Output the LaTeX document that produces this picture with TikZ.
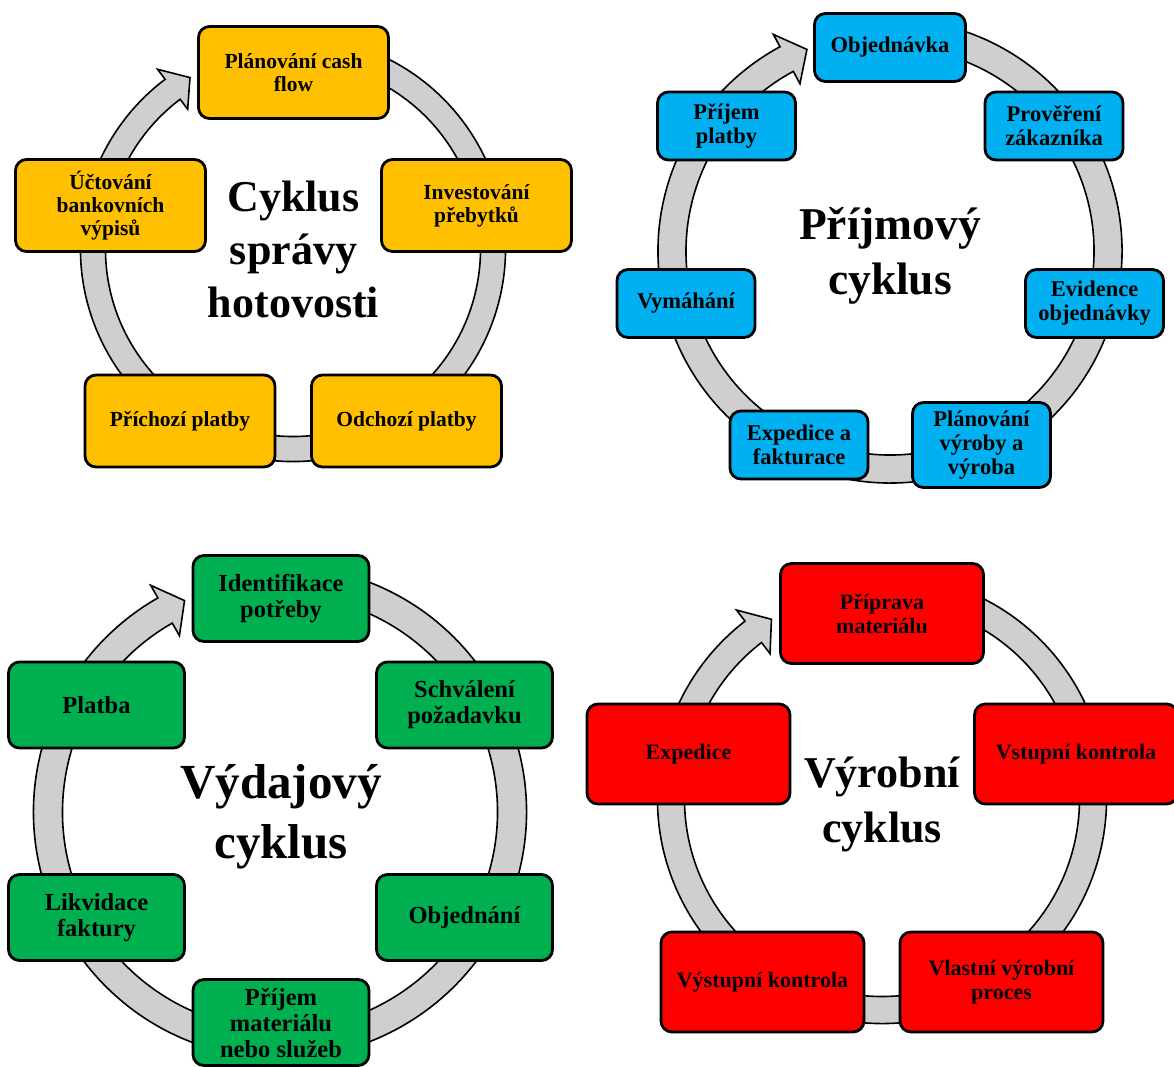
\documentclass[tikz,border=0pt]{standalone}
\usepackage{fontspec}
\setmainfont{Liberation Serif}
\usetikzlibrary{calc}

\definecolor{ringgray}{HTML}{D0CECE}
\definecolor{cashyellow}{HTML}{FFC000}
\definecolor{salesblue}{HTML}{00B0F0}
\definecolor{buygreen}{HTML}{00B050}
\definecolor{makered}{HTML}{FF0000}

\tikzset{
  stage/.style={draw=black, line width=2.8pt, rounded corners=11pt, inner sep=0pt,
    align=center, text=black},
  ring/.style={fill=ringgray, draw=black, line width=1.6pt, line join=miter},
  heading/.style={align=center, inner sep=0pt, text=black},
  cashbox/.style={stage, fill=cashyellow, minimum width=190pt, minimum height=92pt,
    font=\bfseries\fontsize{21.5}{23}\selectfont},
  salesbox/.style={stage, fill=salesblue, minimum width=138pt, minimum height=68pt,
    font=\bfseries\fontsize{22.5}{24}\selectfont},
  buybox/.style={stage, fill=buygreen, minimum width=176pt, minimum height=86pt,
    font=\bfseries\fontsize{24.5}{26}\selectfont},
  makebox/.style={stage, fill=makered, minimum width=203pt, minimum height=100pt,
    font=\bfseries\fontsize{22}{24}\selectfont},
}

% circular band with an arrow head:
% #1,#2 centre, #3 radius, #4 half band width, #5 half head width,
% #6 start angle (hidden under the first box), #7 head base angle, #8 tip angle
\newcommand\cyclering[8]{%
  \draw[ring] ($(#1,#2)+(#6:#3+#4)$)
    arc[start angle=#6, end angle=#7-360, radius=#3+#4]
    -- ($(#1,#2)+(#7-360:#3+#5)$)
    -- ($(#1,#2)+(#8-360:#3)$)
    -- ($(#1,#2)+(#7-360:#3-#5)$)
    -- ($(#1,#2)+(#7-360:#3-#4)$)
    arc[start angle=#7-360, end angle=#6, radius=#3-#4]
    -- cycle;}

\begin{document}
\begin{tikzpicture}[x=1pt, y=1pt]
  \fill[white] (0,0) rectangle (1174,-1066);
  \useasboundingbox (0,0) rectangle (1174,-1066);

  % ---------- bands ----------
  \cyclering{293}{-249}{200}{12.5}{25}{75}{127}{121}
  \cyclering{890}{-251}{218}{14}{28}{75}{118.3}{112.4}
  \cyclering{280}{-812}{232}{14.5}{29}{75}{119.7}{114.3}
  \cyclering{882}{-799}{211}{13.5}{27.5}{75}{127.6}{121.6}

  % ---------- cash management cycle ----------
  \node[cashbox] (c1) at (293.5,-72.5)  {Plánování cash\\flow};
  \node[cashbox] (c2) at (476.5,-205.5) {Investování\\přebytků};
  \node[cashbox] (c3) at (406.5,-421)   {Odchozí platby};
  \node[cashbox] (c4) at (180,-421)     {Příchozí platby};
  \node[cashbox] (c5) at (110.5,-205.5) {Účtování\\bankovních\\výpisů};
  \node[heading, font=\bfseries\fontsize{44}{53}\selectfont] (ct) at (293.5,-249)
    {Cyklus\\správy\\hotovosti};

  % ---------- revenue cycle ----------
  \node[salesbox, minimum width=151pt] (s1) at (890,-47.5) {Objednávka};
  \node[salesbox] (s2) at (1054,-126)    {Prověření\\zákazníka};
  \node[salesbox] (s3) at (1094.5,-303.5) {Evidence\\objednávky};
  \node[salesbox, minimum height=85pt] (s4) at (981.5,-445) {Plánování\\výroby a\\výroba};
  \node[salesbox] (s5) at (799,-445)     {Expedice a\\fakturace};
  \node[salesbox] (s6) at (686,-303.5)   {Vymáhání};
  \node[salesbox] (s7) at (726.5,-126)   {Příjem\\platby};
  \node[heading, font=\bfseries\fontsize{45.5}{55}\selectfont] (st) at (890,-256)
    {Příjmový\\cyklus};

  % ---------- expenditure cycle ----------
  \node[buybox] (b1) at (281,-598.5)  {Identifikace\\potřeby};
  \node[buybox] (b2) at (464.5,-705)  {Schválení\\požadavku};
  \node[buybox] (b3) at (464.5,-917.5) {Objednání};
  \node[buybox] (b4) at (281,-1022.5) {Příjem\\materiálu\\nebo služeb};
  \node[buybox] (b5) at (96.5,-917.5) {Likvidace\\faktury};
  \node[buybox] (b6) at (96.5,-705)   {Platba};
  \node[heading, font=\bfseries\fontsize{49}{60}\selectfont] (bt) at (281,-817)
    {Výdajový\\cyklus};

  % ---------- production cycle ----------
  \node[makebox] (m1) at (882,-613.5)  {Příprava\\materiálu};
  \node[makebox] (m2) at (1076,-754)   {Vstupní kontrola};
  \node[makebox] (m3) at (1001.5,-982) {Vlastní výrobní\\proces};
  \node[makebox] (m4) at (762.5,-982)  {Výstupní kontrola};
  \node[makebox] (m5) at (688.5,-754)  {Expedice};
  \node[heading, font=\bfseries\fontsize{44}{55}\selectfont] (mt) at (882,-804)
    {Výrobní\\cyklus};
\end{tikzpicture}
\end{document}
